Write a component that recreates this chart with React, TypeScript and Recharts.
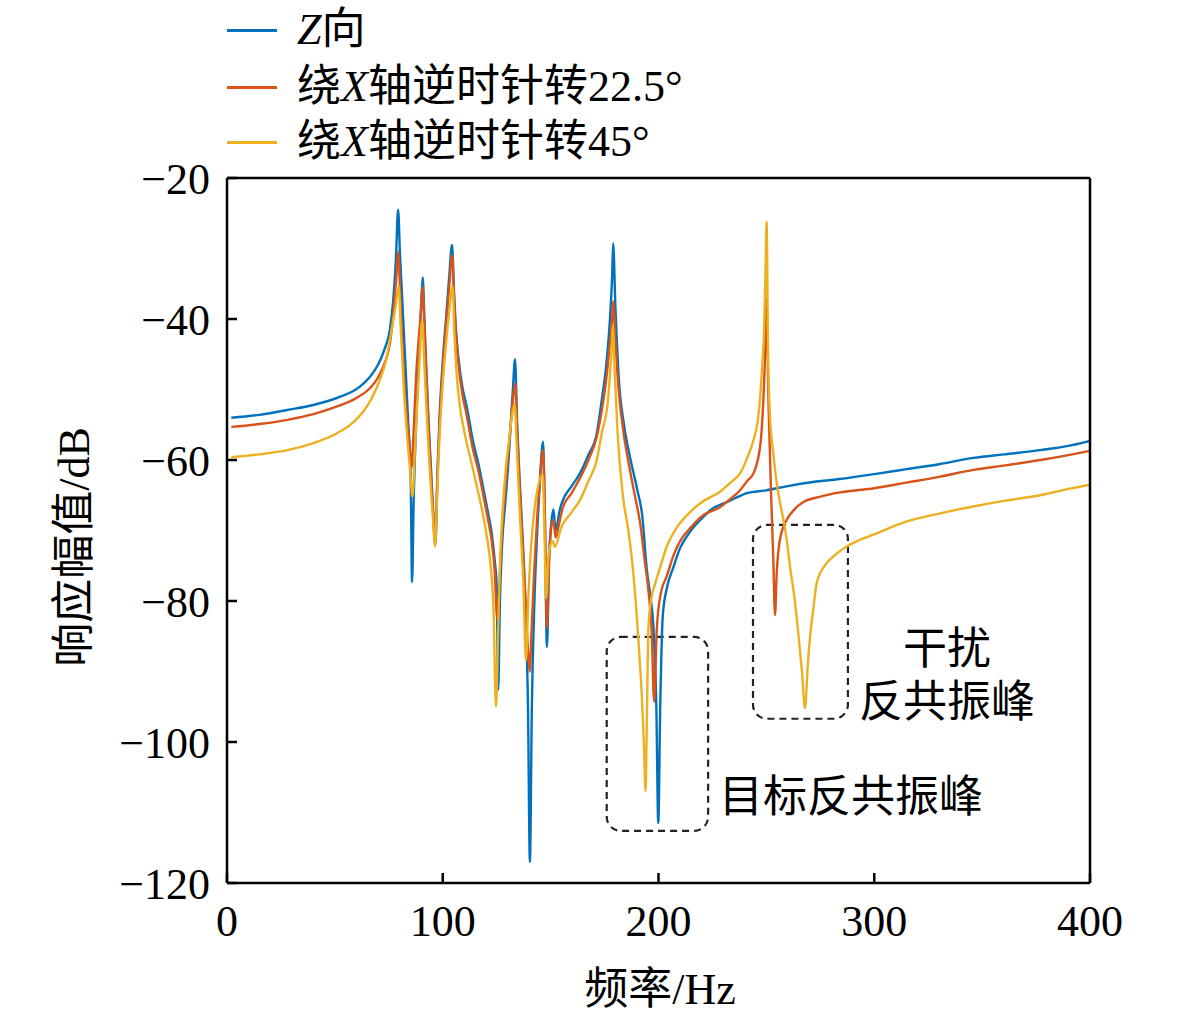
import React from 'react';
import { LineChart, Line, XAxis, YAxis, ReferenceArea } from 'recharts';

// Frequency (Hz) / response (dB), one pair of arrays per series
const zFreq = [
  2, 15, 28, 40, 51, 61.6, 66, 70, 73, 75.5, 77, 78.3, 79.3, 80.2, 81, 82.5, 84, 85.1, 85.8,
  86.5, 87.5, 88.8, 90, 90.7, 91.5, 92.5, 93.5, 94.5, 95.5, 96.6, 97.5, 98.5, 100, 101.5, 103, 104.3,
  105.2, 106, 107.2, 109, 111.1, 114.2, 116.5, 118.8, 121, 122.7, 124, 125, 125.7, 126.5, 127.5, 129,
  130.5, 131.5, 132.5, 133.5, 134.5, 135.5, 136.5, 137.5, 138.5, 139.5, 140.4, 141.3, 142.5, 143.8, 145,
  146.5, 147.3, 148.3, 149.3, 150.3, 151.3, 152.3, 154.3, 155.7, 159.5, 163.6, 167.5, 171.4, 173.7, 175.8, 177.5, 178.5,
  179, 180, 181.5, 184, 186.8, 190, 192.5, 194.5, 196.5, 197.5, 199, 199.9, 200.8, 202, 204, 206.8, 210,
  214.6, 220, 225, 230, 235, 241, 250, 260, 270, 284, 300, 315, 330, 346, 360, 377, 390, 400,
];
const zDb = [
  -54, -53.6, -52.9, -52.2, -51.2, -49.6, -48.3, -46.5, -44.3, -41.5, -37.5, -31.5, -24.5, -31, -35.9, -45.3, -54.8, -61.9, -77.3,
  -66, -56, -46, -38, -34.1, -40, -48, -55, -61, -67, -72, -62, -54, -46, -40, -34, -29.5,
  -36, -41, -45.3, -49.5, -52.4, -57.6, -60.5, -64, -67.5, -70.4, -74, -78, -92.6, -80, -72, -66,
  -60, -55, -50, -45.7, -55, -62, -68, -74, -82, -95, -117, -95, -80, -70, -63,
  -57.4, -68, -86.5, -74, -69, -67, -70, -67, -65.7, -63.8, -61.9, -59.3, -56.2, -51.5, -46.5, -40, -34,
  -29.3, -38, -48, -55, -59.6, -64, -68, -75.3, -80, -83, -95, -111.5, -95, -82, -78, -75.3, -72.5,
  -70.2, -68.3, -66.9, -66.2, -65.5, -64.7, -64.3, -63.7, -63.2, -62.7, -62, -61.3, -60.6, -59.7, -59.2, -58.6, -58, -57.3,
];

const r22Freq = [
  2, 15, 28, 40, 51, 60, 66, 70, 73, 75.5, 77, 78.4, 79.4, 80.3, 81.5, 83, 84.5, 85.6, 86.5,
  87.5, 88.8, 90, 90.6, 91.5, 92.5, 93.5, 94.5, 95.5, 96.5, 97.5, 98.5, 100, 101.5, 103, 104.4, 105.3,
  106.2, 107.3, 109, 111, 114, 116.5, 118.8, 121, 122.7, 124, 125.3, 126.5, 127.5, 129, 130.5, 131.5,
  132.5, 133.6, 134.5, 135.5, 136.5, 137.5, 138.5, 139.5, 140.3, 141.2, 142.5, 143.8, 145, 146.5, 147.3,
  148.3, 149.3, 150.3, 151.3, 152.3, 154.3, 155.7, 159.5, 163.6, 167.5, 171.4, 173.7, 175.8, 177.3, 178.5, 179, 180, 181.5,
  184, 186.5, 189, 191.5, 193.5, 195.5, 196.8, 198, 199.2, 201, 203.8, 207, 210, 214.6, 220, 228.5, 233,
  237.8, 241, 244, 246, 247.5, 248.6, 249.4, 250, 251, 252.2, 253.2, 254, 254.8, 255.6, 257, 259.4, 263,
  267, 275, 284, 300, 315, 330, 346, 360, 377, 390, 400,
];
const r22Db = [
  -55.3, -54.9, -54.3, -53.5, -52.4, -51.2, -49.9, -48.3, -46.3, -43.5, -39.5, -34.5, -30.5, -37, -45, -52.5, -57.5, -61, -56,
  -49, -43, -38.5, -35.4, -41, -49, -56, -62, -67.5, -72, -63, -55, -47, -41, -35.5, -30.9, -37.5,
  -42.5, -46.5, -50.5, -53.5, -58.5, -61.5, -65, -68.5, -71.5, -75.5, -82.6, -76, -70, -64, -58.5, -55,
  -51.5, -49.1, -56, -63, -69, -75, -81, -87, -90, -84, -75, -68, -63, -58.6, -67,
  -83.8, -74, -69.5, -68.5, -71, -68.5, -66.7, -64.8, -62.6, -60, -56.7, -53, -48.5, -44, -40, -37.5, -43, -50,
  -56.5, -61, -65, -69, -74, -79, -84, -94.3, -84, -79, -76.5, -73.5, -71.5, -69.7, -68, -66.7, -65.6,
  -64.3, -63, -61.9, -60, -57, -51.5, -45, -37, -52, -65, -74, -82, -76, -72.8, -70.3, -68.5, -67,
  -66, -65.2, -64.6, -64, -63.2, -62.4, -61.4, -60.8, -60, -59.3, -58.7,
];

const r45Freq = [
  2, 15, 28, 40, 51, 58, 63, 67, 71, 74, 76.3, 78, 79.6, 80.5, 81.8, 83.2, 84.6, 86, 86.9,
  88, 89.2, 90.5, 91.4, 92.5, 93.5, 94.5, 95.5, 96.4, 97.3, 98.3, 99.8, 101.5, 103, 104.6, 105.4, 106.5,
  108, 110, 113, 116, 118.5, 120.5, 122.2, 123.5, 124.7, 125.6, 126.5, 127.8, 129.3, 130.8, 132.2, 133.3,
  134.3, 135.3, 136.3, 137.3, 138.6, 139.6, 141, 142.5, 144, 146.3, 147, 147.9, 148.9, 150, 151, 152,
  155, 159.5, 163.6, 167.5, 171.4, 173.7, 176.6, 177.7, 178.4, 178.8, 179.5, 181, 183.6, 186, 188, 189.9, 191.2,
  192.2, 193.2, 194, 194.7, 195.3, 196.5, 198.5, 201, 203.8, 208, 214.6, 220, 228.5, 233, 237.8, 241, 244,
  246, 247, 248.2, 248.9, 249.6, 250.1, 250.8, 251.7, 253.2, 254.8, 256.3, 257.9, 259.5, 261, 263, 264.8,
  266.5, 267.9, 269.2, 270.4, 271.8, 273.3, 277, 281, 286, 292, 299.5, 315, 330, 345.8, 360, 376.8, 390, 400,
];
const r45Db = [
  -59.6, -59.2, -58.6, -57.6, -56.2, -54.8, -53.2, -51.3, -48.5, -45.5, -41.5, -38.5, -35.4, -41, -49, -55.5, -60.5, -65.2, -60,
  -53, -46, -40.1, -46, -53, -59, -64, -68.5, -72.3, -66, -58, -50, -43.5, -39, -35.4, -42, -48,
  -52.5, -56, -60, -64, -67.5, -71, -75, -81, -95, -85, -75, -67, -61, -57, -53.5, -52,
  -58, -65, -71, -77, -88.5, -80, -72, -67, -64, -62, -68, -79.6, -74, -72, -71.5, -72.3,
  -69.5, -67.5, -65.7, -63, -60, -56.2, -51.5, -47, -43.5, -41, -46, -56, -65.3, -70, -75, -82, -88,
  -93, -100, -107, -95, -84, -80, -77.5, -75, -72.3, -69.8, -67.4, -66, -64.5, -63.3, -61.9, -59.8, -57.2,
  -54.5, -51.5, -46, -42, -33, -26.2, -45, -53.9, -59, -63.3, -66, -68.5, -71.5, -75.2, -79.5, -84.6,
  -90, -95.2, -89, -84.6, -81, -77.5, -75, -73.7, -72.5, -71.5, -70.6, -68.7, -67.6, -66.6, -65.8, -65, -64.1, -63.5,
];

const xTicks = [0, 100, 200, 300, 400];
const yTicks = [-120, -100, -80, -60, -40, -20];

// annotation boxes (Hz range, dB range)
const targetBox = { f: [176, 223], db: [-112.6, -85.1] };
const disturbBox = { f: [243.8, 287.8], db: [-96.7, -69.2] };

const zip = (f: number[], v: number[]) => f.map((x, i) => ({ f: x, db: v[i] }));

const series = [
  { key: 'z', name: 'Z向', italic: 'Z', rest: '向', pre: '', color: '#0072BD', data: zip(zFreq, zDb) },
  { key: 'r22', name: '绕X轴逆时针转22.5°', pre: '绕', italic: 'X', rest: '轴逆时针转22.5°', color: '#D95319', data: zip(r22Freq, r22Db) },
  { key: 'r45', name: '绕X轴逆时针转45°', pre: '绕', italic: 'X', rest: '轴逆时针转45°', color: '#EDB120', data: zip(r45Freq, r45Db) },
];

const FONT = "'Liberation Serif', 'Noto Sans CJK SC', serif";
const AXIS = '#000';

const roundedBox = (props: any) => (
  <rect
    x={props.x}
    y={props.y}
    width={props.width}
    height={props.height}
    rx={14}
    ry={14}
    fill="none"
    stroke="#222"
    strokeWidth={2.2}
    strokeDasharray="7 5"
  />
);

const minus = (v: number) => String(v).replace('-', '\u2212');

const abs = (left: number, top: number, extra: React.CSSProperties = {}): React.CSSProperties => ({
  position: 'absolute',
  left,
  top,
  fontFamily: FONT,
  fontSize: 44,
  lineHeight: '44px',
  whiteSpace: 'nowrap',
  color: '#000',
  ...extra,
});

export default function App() {
  const tickStyle = { fontFamily: FONT, fontSize: 44, fill: '#000' };
  const line = { stroke: AXIS, strokeWidth: 2.5 };
  return (
    <div style={{ position: 'absolute', left: 0, top: 0, width: 1181, height: 1024, background: '#fff' }}>
      <LineChart width={1181} height={1024} data={series[0].data} margin={{ top: 177, right: 90, bottom: 140, left: 226 }}>
        <XAxis
          dataKey="f"
          type="number"
          domain={[0, 400]}
          allowDataOverflow
          ticks={xTicks}
          height={1}
          tickSize={-10}
          tickMargin={32}
          tick={tickStyle}
          axisLine={line}
          tickLine={line}
        />
        <XAxis
          xAxisId="top"
          orientation="top"
          dataKey="f"
          type="number"
          domain={[0, 400]}
          allowDataOverflow
          ticks={xTicks}
          height={1}
          tickSize={-10}
          tick={false}
          axisLine={line}
          tickLine={line}
        />
        <YAxis
          type="number"
          domain={[-120, -20]}
          allowDataOverflow
          ticks={yTicks}
          width={1}
          tickSize={-10}
          tickMargin={27}
          tick={tickStyle}
          tickFormatter={minus}
          axisLine={line}
          tickLine={line}
        />
        <YAxis
          yAxisId="right"
          orientation="right"
          type="number"
          domain={[-120, -20]}
          allowDataOverflow
          ticks={yTicks}
          width={1}
          tickSize={-10}
          tick={false}
          axisLine={line}
          tickLine={line}
        />
        {series.map((s) => (
          <Line
            key={s.key}
            data={s.data}
            dataKey="db"
            name={s.name}
            type="monotoneX"
            stroke={s.color}
            strokeWidth={2.4}
            dot={false}
            isAnimationActive={false}
          />
        ))}
        <ReferenceArea
          x1={targetBox.f[0]}
          x2={targetBox.f[1]}
          y1={targetBox.db[0]}
          y2={targetBox.db[1]}
          shape={roundedBox}
        />
        <ReferenceArea
          x1={disturbBox.f[0]}
          x2={disturbBox.f[1]}
          y1={disturbBox.db[0]}
          y2={disturbBox.db[1]}
          shape={roundedBox}
        />
      </LineChart>

      {/* legend */}
      {series.map((s, i) => (
        <div key={s.key} style={abs(227, [30, 87, 142][i] - 22, { display: 'flex', alignItems: 'center' })}>
          <span style={{ display: 'inline-block', width: 50, height: 3, background: s.color, marginRight: 20 }} />
          <span>
            {s.pre}
            <i>{s.italic}</i>
            {s.rest}
          </span>
        </div>
      ))}

      {/* axis titles */}
      <div style={abs(660, 990, { transform: 'translate(-50%, -50%)' })}>频率/Hz</div>
      <div style={abs(75, 547, { transform: 'translate(-50%, -50%) rotate(-90deg)' })}>响应幅值/dB</div>

      {/* annotations */}
      <div style={abs(851, 798, { transform: 'translate(-50%, -50%)' })}>目标反共振峰</div>
      <div style={abs(947, 650, { transform: 'translate(-50%, -50%)' })}>干扰</div>
      <div style={abs(947, 703, { transform: 'translate(-50%, -50%)' })}>反共振峰</div>
    </div>
  );
}
